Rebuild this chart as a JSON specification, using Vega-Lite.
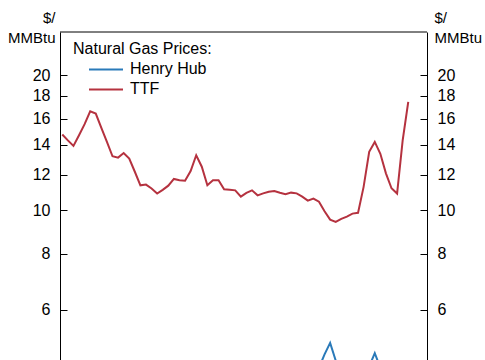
{
  "$schema": "https://vega.github.io/schema/vega-lite/v6.json",
  "width": 367,
  "height": 328,
  "autosize": "none",
  "padding": {"left": 60, "top": 32, "right": 58, "bottom": 0},
  "config": {
    "font": "Liberation Sans",
    "view": {"stroke": null},
    "axis": {"domainColor": "#000000", "tickColor": "#000000", "labelColor": "#000000", "titleColor": "#000000", "grid": false, "domainWidth": 1, "tickWidth": 1}
  },
  "datasets": {
    "prices": [
      {"week": 0, "Henry Hub": 3.6, "TTF": 14.76},
      {"week": 1, "Henry Hub": 3.5, "TTF": 14.32},
      {"week": 2, "Henry Hub": 3.8, "TTF": 13.92},
      {"week": 3, "Henry Hub": 4.1, "TTF": 14.70},
      {"week": 4, "Henry Hub": 4.0, "TTF": 15.57},
      {"week": 5, "Henry Hub": 4.2, "TTF": 16.63},
      {"week": 6, "Henry Hub": 4.3, "TTF": 16.44},
      {"week": 7, "Henry Hub": 4.1, "TTF": 15.27},
      {"week": 8, "Henry Hub": 3.9, "TTF": 14.22},
      {"week": 9, "Henry Hub": 3.8, "TTF": 13.20},
      {"week": 10, "Henry Hub": 4.0, "TTF": 13.11},
      {"week": 11, "Henry Hub": 3.9, "TTF": 13.42},
      {"week": 12, "Henry Hub": 3.7, "TTF": 13.04},
      {"week": 13, "Henry Hub": 3.5, "TTF": 12.19},
      {"week": 14, "Henry Hub": 3.4, "TTF": 11.37},
      {"week": 15, "Henry Hub": 3.3, "TTF": 11.41},
      {"week": 16, "Henry Hub": 3.4, "TTF": 11.19},
      {"week": 17, "Henry Hub": 3.2, "TTF": 10.90},
      {"week": 18, "Henry Hub": 3.1, "TTF": 11.11},
      {"week": 19, "Henry Hub": 3.3, "TTF": 11.35},
      {"week": 20, "Henry Hub": 3.4, "TTF": 11.75},
      {"week": 21, "Henry Hub": 3.3, "TTF": 11.67},
      {"week": 22, "Henry Hub": 3.2, "TTF": 11.64},
      {"week": 23, "Henry Hub": 3.0, "TTF": 12.24},
      {"week": 24, "Henry Hub": 3.1, "TTF": 13.27},
      {"week": 25, "Henry Hub": 3.0, "TTF": 12.51},
      {"week": 26, "Henry Hub": 2.9, "TTF": 11.37},
      {"week": 27, "Henry Hub": 3.1, "TTF": 11.67},
      {"week": 28, "Henry Hub": 3.2, "TTF": 11.67},
      {"week": 29, "Henry Hub": 3.0, "TTF": 11.14},
      {"week": 30, "Henry Hub": 2.9, "TTF": 11.11},
      {"week": 31, "Henry Hub": 2.8, "TTF": 11.08},
      {"week": 32, "Henry Hub": 2.9, "TTF": 10.73},
      {"week": 33, "Henry Hub": 3.0, "TTF": 10.94},
      {"week": 34, "Henry Hub": 3.1, "TTF": 11.08},
      {"week": 35, "Henry Hub": 3.0, "TTF": 10.80},
      {"week": 36, "Henry Hub": 2.9, "TTF": 10.91},
      {"week": 37, "Henry Hub": 3.0, "TTF": 11.00},
      {"week": 38, "Henry Hub": 3.2, "TTF": 11.04},
      {"week": 39, "Henry Hub": 3.4, "TTF": 10.94},
      {"week": 40, "Henry Hub": 3.5, "TTF": 10.86},
      {"week": 41, "Henry Hub": 3.6, "TTF": 10.95},
      {"week": 42, "Henry Hub": 3.7, "TTF": 10.91},
      {"week": 43, "Henry Hub": 3.9, "TTF": 10.73},
      {"week": 44, "Henry Hub": 4.0, "TTF": 10.51},
      {"week": 45, "Henry Hub": 4.1, "TTF": 10.62},
      {"week": 46, "Henry Hub": 4.45, "TTF": 10.45},
      {"week": 47, "Henry Hub": 4.77, "TTF": 9.95},
      {"week": 48, "Henry Hub": 5.06, "TTF": 9.53},
      {"week": 49, "Henry Hub": 4.62, "TTF": 9.42},
      {"week": 50, "Henry Hub": 4.2, "TTF": 9.57},
      {"week": 51, "Henry Hub": 4.0, "TTF": 9.68},
      {"week": 52, "Henry Hub": 4.1, "TTF": 9.83},
      {"week": 53, "Henry Hub": 4.0, "TTF": 9.87},
      {"week": 54, "Henry Hub": 4.1, "TTF": 11.28},
      {"week": 55, "Henry Hub": 4.48, "TTF": 13.51},
      {"week": 56, "Henry Hub": 4.80, "TTF": 14.21},
      {"week": 57, "Henry Hub": 4.45, "TTF": 13.37},
      {"week": 58, "Henry Hub": 4.1, "TTF": 12.09},
      {"week": 59, "Henry Hub": 3.9, "TTF": 11.20},
      {"week": 60, "Henry Hub": 3.8, "TTF": 10.90},
      {"week": 61, "Henry Hub": 4.0, "TTF": 14.33},
      {"week": 62, "Henry Hub": 4.2, "TTF": 17.45}
    ],
    "frame": [{"top": 25}]
  },
  "layer": [
    {
      "data": {"name": "prices"},
      "transform": [{"fold": ["Henry Hub", "TTF"], "as": ["series", "price"]}, {"filter": "datum.series === 'TTF'"}],
      "mark": {"type": "line", "strokeWidth": 2, "clip": true},
      "encoding": {
        "x": {"field": "week", "type": "quantitative", "scale": {"domain": [-0.41, 65.36], "nice": false, "zero": false}, "axis": null},
        "color": {
          "field": "series", "type": "nominal",
          "scale": {"domain": ["Henry Hub", "TTF"], "range": ["#2a7ab9", "#b5323f"]},
          "legend": {
            "orient": "none", "legendX": 13, "legendY": 9.4,
            "title": "Natural Gas Prices:", "titleFontSize": 16, "titleFontWeight": "normal", "titleColor": "#000000", "titlePadding": 2,
            "labelFontSize": 16, "labelColor": "#000000",
            "symbolType": "stroke", "symbolSize": 1156, "symbolStrokeWidth": 2, "symbolOffset": 15, "labelOffset": 6,
            "clipHeight": 20, "rowPadding": 0, "padding": 0
          }
        },
        "y": {
          "field": "price", "type": "quantitative",
          "scale": {"type": "log", "domain": [4.633, 25], "nice": false, "zero": false},
          "axis": {"orient": "left", "values": [6, 8, 10, 12, 14, 16, 18, 20], "tickSize": -7, "labelPadding": 17, "labelFontSize": 16,
            "title": ["$/\u00a0", "MMBtu"], "titleAngle": 0, "titleAlign": "right", "titleBaseline": "top", "titleX": -5, "titleY": -21.8,
            "titleFontSize": 15, "titleFontWeight": "normal", "titleLineHeight": 20}
        }
      }
    },
    {
      "data": {"name": "prices"},
      "transform": [{"fold": ["Henry Hub", "TTF"], "as": ["series", "price"]}, {"filter": "datum.series === 'Henry Hub'"}],
      "mark": {"type": "line", "strokeWidth": 2, "clip": true},
      "encoding": {
        "x": {"field": "week", "type": "quantitative", "scale": {"domain": [-0.41, 65.36], "nice": false, "zero": false}, "axis": null},
        "color": {
          "field": "series", "type": "nominal",
          "scale": {"domain": ["Henry Hub", "TTF"], "range": ["#2a7ab9", "#b5323f"]}
        },
        "y": {
          "field": "price", "type": "quantitative",
          "scale": {"type": "log", "domain": [4.633, 25], "nice": false, "zero": false},
          "axis": {"orient": "right", "values": [6, 8, 10, 12, 14, 16, 18, 20], "tickSize": -7, "labelPadding": 17, "labelFontSize": 16,
            "title": ["$/", "MMBtu"], "titleAngle": 0, "titleAlign": "left", "titleBaseline": "top", "titleX": 7, "titleY": -21.8,
            "titleFontSize": 15, "titleFontWeight": "normal", "titleLineHeight": 20}
        }
      }
    },
    {
      "data": {"name": "frame"},
      "mark": {"type": "rule", "color": "#000000", "strokeWidth": 1},
      "encoding": {
        "y": {"field": "top", "type": "quantitative", "axis": null}
      }
    }
  ],
  "resolve": {"axis": {"y": "independent"}}
}
